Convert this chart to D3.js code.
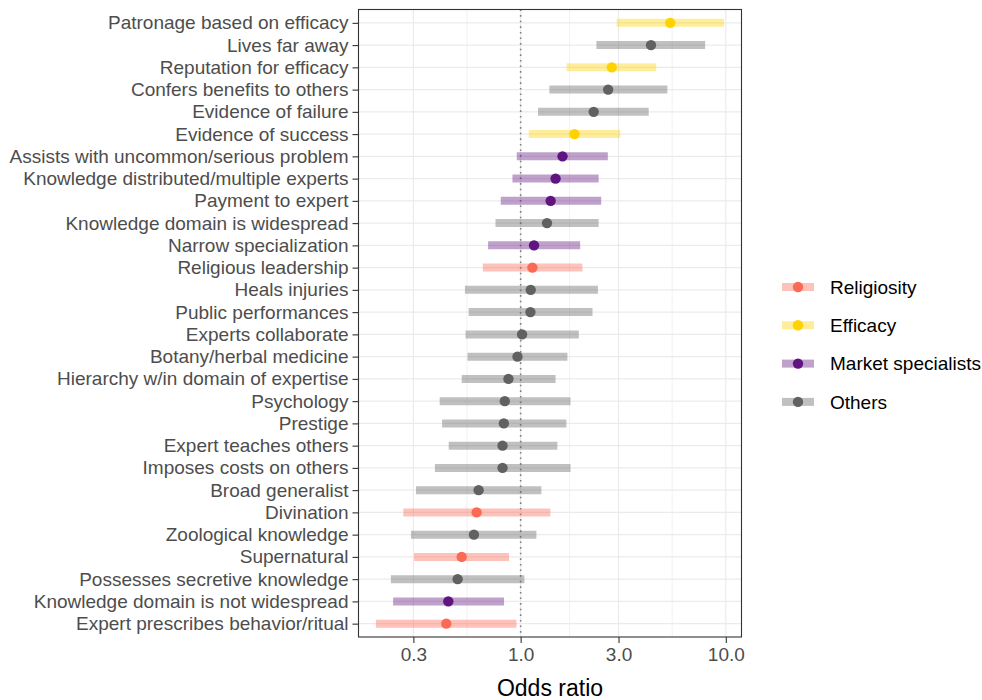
<!DOCTYPE html>
<html>
<head>
<meta charset="utf-8">
<script src="https://cdn.jsdelivr.net/npm/d3@7"></script>
<style>
  body { margin: 0; background: #fff; }
  svg { display: block; font-family: "Liberation Sans", Arial, Helvetica, sans-serif; }
</style>
</head>
<body>
<svg id="chart" width="982" height="700"></svg>
<script>
// Predictors, top to bottom
const labels = [
  "Patronage based on efficacy", "Lives far away", "Reputation for efficacy",
  "Confers benefits to others", "Evidence of failure", "Evidence of success",
  "Assists with uncommon/serious problem", "Knowledge distributed/multiple experts",
  "Payment to expert", "Knowledge domain is widespread", "Narrow specialization",
  "Religious leadership", "Heals injuries", "Public performances", "Experts collaborate",
  "Botany/herbal medicine", "Hierarchy w/in domain of expertise", "Psychology", "Prestige",
  "Expert teaches others", "Imposes costs on others", "Broad generalist", "Divination",
  "Zoological knowledge", "Supernatural", "Possesses secretive knowledge",
  "Knowledge domain is not widespread", "Expert prescribes behavior/ritual"
];
const groups = [
  "Efficacy", "Others", "Efficacy", "Others", "Others", "Efficacy",
  "Market specialists", "Market specialists", "Market specialists", "Others",
  "Market specialists", "Religiosity", "Others", "Others", "Others",
  "Others", "Others", "Others", "Others", "Others", "Others", "Others",
  "Religiosity", "Others", "Religiosity", "Others", "Market specialists", "Religiosity"
];
const oddsRatio = [
  5.36, 4.32, 2.78, 2.67, 2.27, 1.83, 1.60, 1.48, 1.40, 1.344, 1.162, 1.141, 1.12, 1.116,
  1.016, 0.965, 0.872, 0.837, 0.828, 0.816, 0.816, 0.624, 0.61, 0.592, 0.516, 0.493, 0.444, 0.434
];
const lower = [
  2.94, 2.34, 1.675, 1.38, 1.215, 1.095, 0.957, 0.912, 0.80, 0.754, 0.694, 0.654, 0.535, 0.558,
  0.539, 0.551, 0.516, 0.403, 0.414, 0.446, 0.382, 0.309, 0.268, 0.292, 0.302, 0.233, 0.239, 0.197
];
const upper = [
  9.81, 7.93, 4.58, 5.19, 4.21, 3.06, 2.66, 2.40, 2.47, 2.40, 1.95, 2.00, 2.38, 2.24,
  1.92, 1.69, 1.48, 1.75, 1.67, 1.51, 1.75, 1.262, 1.396, 1.193, 0.878, 1.043, 0.83, 0.954
];
const xTicks = [0.3, 1.0, 3.0, 10.0];
const legendGroups = ["Religiosity", "Efficacy", "Market specialists", "Others"];

const pointColor = {
  "Religiosity": "#FA6A55",
  "Efficacy": "#FFD200",
  "Market specialists": "#5F1480",
  "Others": "#616161"
};

const rows = labels.map((label, i) => ({
  label, group: groups[i], or: oddsRatio[i], lo: lower[i], hi: upper[i]
}));

const svg = d3.select("#chart");
const panel = { left: 358.5, right: 741.5, top: 9.5, bottom: 637 };
const fontFamily = "'Liberation Sans', Arial, sans-serif";

// Log x scale with 5% expansion of the data range
const lmin = Math.log10(d3.min(lower)), lmax = Math.log10(d3.max(upper));
const pad = (lmax - lmin) * 0.05;
const x = d3.scaleLog()
  .domain([Math.pow(10, lmin - pad), Math.pow(10, lmax + pad)])
  .range([panel.left, panel.right]);

// Discrete y with 0.6-unit padding at each end
const step = (panel.bottom - panel.top) / (labels.length - 1 + 1.2);
const y = d => panel.top + step * (0.6 + labels.indexOf(d));

const g = svg.append("g");

// Grid: minor lines halfway between major ticks in log space
const minor = [];
for (let i = 0; i < xTicks.length - 1; i++) minor.push(Math.sqrt(xTicks[i] * xTicks[i + 1]));
g.selectAll(".minor").data(minor).join("line")
  .attr("x1", d => x(d)).attr("x2", d => x(d))
  .attr("y1", panel.top).attr("y2", panel.bottom)
  .attr("stroke", "#EBEBEB").attr("stroke-width", 0.7);
g.selectAll(".majorx").data(xTicks).join("line")
  .attr("x1", d => x(d)).attr("x2", d => x(d))
  .attr("y1", panel.top).attr("y2", panel.bottom)
  .attr("stroke", "#EBEBEB").attr("stroke-width", 1.2);
g.selectAll(".majory").data(labels).join("line")
  .attr("x1", panel.left).attr("x2", panel.right)
  .attr("y1", d => y(d)).attr("y2", d => y(d))
  .attr("stroke", "#EBEBEB").attr("stroke-width", 1.2);

// Reference line at odds ratio = 1
g.append("line")
  .attr("x1", x(1)).attr("x2", x(1))
  .attr("y1", panel.top).attr("y2", panel.bottom)
  .attr("stroke", "#7F7F7F").attr("stroke-width", 1.6)
  .attr("stroke-dasharray", "1.6,4");

// Confidence intervals
g.selectAll(".ci").data(rows).join("line")
  .attr("x1", d => x(d.lo)).attr("x2", d => x(d.hi))
  .attr("y1", d => y(d.label)).attr("y2", d => y(d.label))
  .attr("stroke", d => pointColor[d.group])
  .attr("stroke-opacity", 0.4)
  .attr("stroke-width", 8);

// Point estimates
g.selectAll(".pt").data(rows).join("circle")
  .attr("cx", d => x(d.or)).attr("cy", d => y(d.label))
  .attr("r", 5.2)
  .attr("fill", d => pointColor[d.group]);

// Panel border
g.append("rect")
  .attr("x", panel.left).attr("y", panel.top)
  .attr("width", panel.right - panel.left).attr("height", panel.bottom - panel.top)
  .attr("fill", "none").attr("stroke", "#333333").attr("stroke-width", 1.1);

// Axes
const yScale = d3.scalePoint().domain(labels).range([y(labels[0]), y(labels[labels.length - 1])]);
const yAxis = svg.append("g")
  .attr("transform", `translate(${panel.left},0)`)
  .call(d3.axisLeft(yScale).tickSize(6).tickPadding(4));
yAxis.select(".domain").remove();
yAxis.selectAll(".tick line").attr("stroke", "#333333").attr("stroke-width", 1.1);
yAxis.selectAll(".tick text")
  .attr("fill", "#4D4D4D").attr("font-size", 19)
  .style("font-family", fontFamily);

const xAxis = svg.append("g")
  .attr("transform", `translate(0,${panel.bottom})`)
  .call(d3.axisBottom(x).tickValues(xTicks).tickFormat(d3.format(".1f")).tickSize(6).tickPadding(5));
xAxis.select(".domain").remove();
xAxis.selectAll(".tick line").attr("stroke", "#333333").attr("stroke-width", 1.1);
xAxis.selectAll(".tick text")
  .attr("fill", "#4D4D4D").attr("font-size", 19)
  .style("font-family", fontFamily);

svg.append("text")
  .attr("x", (panel.left + panel.right) / 2).attr("y", 696)
  .attr("text-anchor", "middle").attr("font-size", 23).attr("fill", "#000")
  .style("font-family", fontFamily)
  .text("Odds ratio");

// Legend
const leg = svg.append("g").attr("transform", "translate(782,287)");
const item = leg.selectAll("g").data(legendGroups).join("g")
  .attr("transform", (d, i) => `translate(0,${i * 38.3})`);
item.append("line")
  .attr("x1", 0).attr("x2", 32).attr("y1", 0).attr("y2", 0)
  .attr("stroke", d => pointColor[d]).attr("stroke-opacity", 0.4).attr("stroke-width", 8);
item.append("circle").attr("cx", 16).attr("cy", 0).attr("r", 5.2)
  .attr("fill", d => pointColor[d]);
item.append("text")
  .attr("x", 48).attr("y", 0).attr("dy", "0.35em")
  .attr("font-size", 19).attr("fill", "#000")
  .style("font-family", fontFamily)
  .text(d => d);
</script>
</body>
</html>
